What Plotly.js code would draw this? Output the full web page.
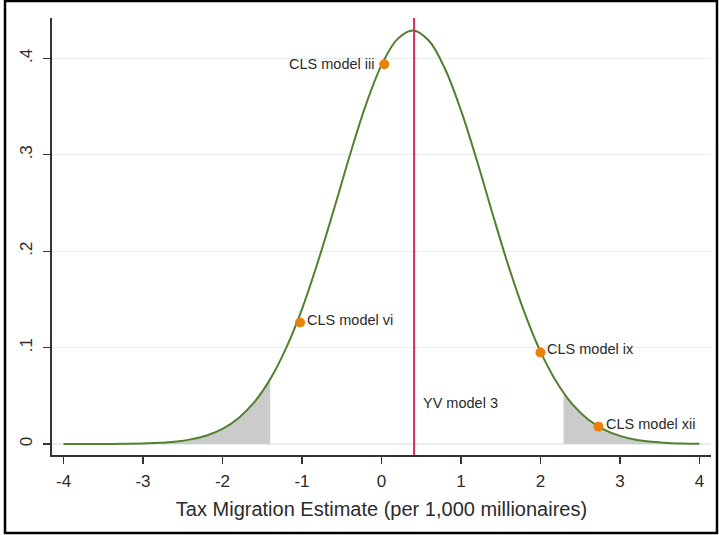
<!DOCTYPE html>
<html>
<head>
<meta charset="utf-8">
<script src="https://cdn.plot.ly/plotly-3.0.1.min.js"></script>
<style>
  html, body { margin: 0; padding: 0; background: #ffffff; }
  #chart { width: 719px; height: 535px; }
</style>
</head>
<body>
<div id="chart"></div>
<script>
// Density curve
const curveX = [-4.0, -3.8, -3.6, -3.4, -3.2, -3.0, -2.8, -2.6, -2.4, -2.2, -2.0, -1.8, -1.6, -1.4, -1.2, -1.0, -0.8, -0.6, -0.4, -0.2,
                0.0, 0.2, 0.4, 0.6, 0.8, 1.0, 1.2, 1.4, 1.6, 1.8, 2.0, 2.2, 2.4, 2.6, 2.8, 3.0, 3.2, 3.4, 3.6, 3.8, 4.0];
const curveY = [0.0000, 0.00002, 0.00004, 0.0001, 0.00025, 0.00056, 0.0012, 0.00245, 0.0048, 0.0089, 0.0158, 0.0268, 0.0434, 0.0673, 0.0995, 0.140, 0.189, 0.243, 0.299, 0.351,
                0.393, 0.420, 0.429, 0.418, 0.389, 0.346, 0.294, 0.238, 0.184, 0.136, 0.0958, 0.0646, 0.0414, 0.0254, 0.0150, 0.0084, 0.0045, 0.0023, 0.0011, 0.0005, 0.0002];

// Shaded tails (cut points)
const leftCutX = -1.4;
const rightCutX = 2.29;
const rightCutY = 0.053;

// Labelled estimates
const pointLabels = ["CLS model iii", "CLS model vi", "CLS model ix", "CLS model xii"];
const pointX = [0.035, -1.025, 2.0, 2.73];
const pointY = [0.394, 0.126, 0.095, 0.018];

// Vertical reference line
const yvLabel = "YV model 3";
const yvX = 0.41;
const yvLabelX = 0.497;
const yvLabelY = 0.0425;

// Axis ticks
const xTickVals = [-4, -3, -2, -1, 0, 1, 2, 3, 4];
const xTickText = ["-4", "-3", "-2", "-1", "0", "1", "2", "3", "4"];
const yTickVals = [0, 0.1, 0.2, 0.3, 0.4];
const yTickText = ["0", ".1", ".2", ".3", ".4"];

const leftShadeX = [], leftShadeY = [];
curveX.forEach((x, i) => { if (x <= leftCutX) { leftShadeX.push(x); leftShadeY.push(curveY[i]); } });
const rightShadeX = [rightCutX], rightShadeY = [rightCutY];
curveX.forEach((x, i) => { if (x > rightCutX) { rightShadeX.push(x); rightShadeY.push(curveY[i]); } });

const FONT = "Liberation Sans, Arial, Helvetica, sans-serif";
const TXT = "#2b2b2b";

const traces = [
  { x: leftShadeX, y: leftShadeY, type: "scatter", mode: "lines", fill: "tozeroy",
    fillcolor: "#cbcbcb", line: { width: 0, shape: "spline" }, hoverinfo: "skip", showlegend: false },
  { x: rightShadeX, y: rightShadeY, type: "scatter", mode: "lines", fill: "tozeroy",
    fillcolor: "#cbcbcb", line: { width: 0, shape: "spline" }, hoverinfo: "skip", showlegend: false },
  { x: curveX, y: curveY, type: "scatter", mode: "lines",
    line: { color: "#52802e", width: 2, shape: "spline" }, showlegend: false },
  { x: pointX, y: pointY, type: "scatter", mode: "markers",
    marker: { color: "#e8820c", size: 10 }, showlegend: false }
];

const annotations = pointLabels.map((t, i) => ({
  x: pointX[i], y: pointY[i], xref: "x", yref: "y", text: t, showarrow: false,
  xanchor: i === 0 ? "right" : "left", yanchor: "middle",
  xshift: i === 0 ? -8 : 5, yshift: i === 0 ? 0 : 3,
  font: { family: FONT, size: 14.5, color: TXT }
}));
annotations.push({
  x: yvLabelX, y: yvLabelY, xref: "x", yref: "y", text: yvLabel, showarrow: false,
  xanchor: "left", yanchor: "middle", font: { family: FONT, size: 14.5, color: TXT }
});

const layout = {
  width: 719, height: 535,
  margin: { l: 52, r: 8, t: 18, b: 80 },
  paper_bgcolor: "#ffffff", plot_bgcolor: "#ffffff",
  font: { family: FONT, color: TXT },
  showlegend: false,
  xaxis: {
    range: [-4.145, 4.145], tickmode: "array", tickvals: xTickVals, ticktext: xTickText,
    ticks: "outside", ticklen: 7, tickwidth: 1.2, tickcolor: "#333",
    showline: true, linecolor: "#333", linewidth: 1.8,
    showgrid: false, zeroline: false, ticklabelstandoff: 3,
    tickfont: { family: FONT, size: 17, color: TXT },
    title: { text: "Tax Migration Estimate (per 1,000 millionaires)", font: { family: FONT, size: 20, color: TXT }, standoff: 12 }
  },
  yaxis: {
    range: [-0.0114, 0.4419], tickmode: "array", tickvals: yTickVals, ticktext: yTickText,
    tickangle: -90,
    ticks: "outside", ticklen: 7, tickwidth: 1.2, tickcolor: "#333",
    showline: true, linecolor: "#333", linewidth: 1.8, ticklabelstandoff: 4,
    showgrid: true, gridcolor: "#e6eff0", gridwidth: 1.2, zeroline: false,
    tickfont: { family: FONT, size: 17, color: TXT }
  },
  shapes: [
    { type: "line", xref: "x", yref: "paper", x0: yvX, x1: yvX, y0: 0, y1: 1,
      line: { color: "#d02c55", width: 2 } },
    { type: "rect", xref: "paper", yref: "paper", x0: -0.0713, x1: 1.0091, y0: -0.1785, y1: 1.0389,
      line: { color: "#000000", width: 2.5 }, fillcolor: "rgba(0,0,0,0)" }
  ],
  annotations: annotations
};

Plotly.newPlot("chart", traces, layout, { staticPlot: true, displayModeBar: false });
</script>
</body>
</html>
